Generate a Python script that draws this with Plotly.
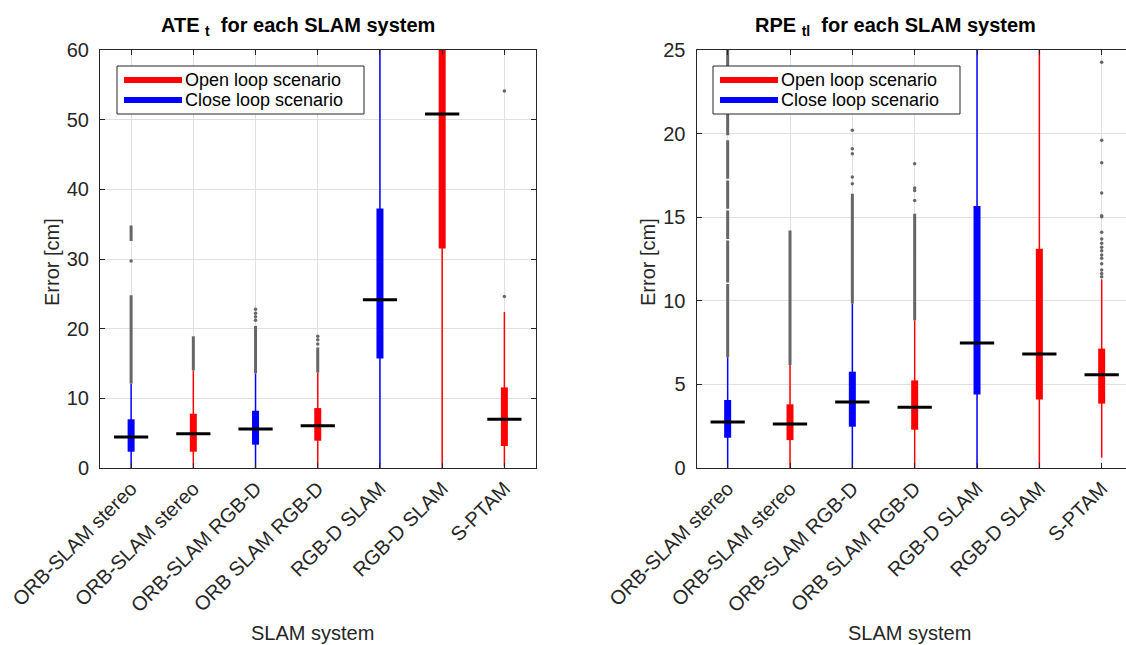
import plotly.graph_objects as go

W, H = 1126, 645

# ---------------- data ----------------
categories = ["ORB-SLAM stereo", "ORB-SLAM stereo", "ORB-SLAM RGB-D", "ORB SLAM RGB-D",
              "RGB-D SLAM", "RGB-D SLAM", "S-PTAM"]
scenario = ["close", "open", "close", "open", "close", "open", "open"]

# ATE_t [cm]
ate_q1 = [2.34, 2.34, 3.35, 3.92, 15.7, 31.5, 3.16]
ate_med = [4.45, 4.93, 5.6, 6.07, 24.15, 50.8, 6.98]
ate_q3 = [6.99, 7.79, 8.22, 8.6, 37.25, 62.0, 11.57]
ate_wlo = [0.0, 0.0, 0.0, 0.0, 0.0, 0.0, 0.2]
ate_whi = [12.05, 13.97, 13.58, 13.7, 70.0, 70.0, 22.4]
ate_out_bands = [[(12.1, 24.8), (32.6, 34.8)], [(14.0, 18.9)], [(13.6, 20.4)],
                 [(13.7, 17.3)], [], [], []]
ate_out_pts = [[29.7], [], [21.2, 21.7, 22.2, 22.8], [17.8, 18.4, 18.9], [], [], [24.6, 54.1]]

# RPE_tl [cm]
rpe_q1 = [1.81, 1.67, 2.47, 2.29, 4.39, 4.09, 3.85]
rpe_med = [2.75, 2.63, 3.95, 3.63, 7.48, 6.82, 5.58]
rpe_q3 = [4.07, 3.81, 5.76, 5.24, 15.67, 13.12, 7.14]
rpe_wlo = [0.0, 0.0, 0.0, 0.0, 0.0, 0.0, 0.62]
rpe_whi = [6.62, 6.16, 9.83, 8.83, 30.0, 30.0, 11.28]
rpe_out_bands = [[(6.62, 11.0), (11.1, 13.6), (13.7, 15.4), (15.5, 17.2), (17.3, 19.6),
                  (19.9, 21.6), (22.0, 23.2), (23.6, 25.2)],
                 [(6.16, 14.2)], [(9.83, 16.4)], [(8.83, 15.2)], [], [], []]
rpe_out_pts = [[], [], [17.0, 17.4, 18.8, 19.1, 20.2], [16.0, 16.6, 16.75, 18.2], [], [],
               [11.44, 11.64, 11.84, 12.22, 12.54, 12.74, 13.0, 13.2, 13.44, 13.7, 14.1,
                15.03, 15.09, 16.45, 18.26, 19.6, 24.26]]

ate_ticks = [0, 10, 20, 30, 40, 50, 60]
rpe_ticks = [0, 5, 10, 15, 20, 25]
legend_labels = ["Open loop scenario", "Close loop scenario"]
titles = ["ATE <sub>t</sub>  for each SLAM system", "RPE <sub>tl</sub>  for each SLAM system"]

COLORS = {"open": "#ff0000", "close": "#0000ff"}
OUT_COLOR = "#666666"
AX = "#262626"
FONT = "Liberation Sans, Arial, Helvetica, sans-serif"


def px(x):
    return x / W


def py(y):
    return 1 - y / H


fig = go.Figure()


def add_boxes(xa, ya, q1, med, q3, wlo, whi, bands, pts):
    for i in range(len(categories)):
        x = i + 1
        c = COLORS[scenario[i]]
        # whisker
        fig.add_trace(go.Scatter(x=[x, x], y=[wlo[i], whi[i]], mode="lines",
                                 line=dict(color=c, width=1.5), xaxis=xa, yaxis=ya,
                                 showlegend=False, hoverinfo="skip"))
        # outlier bands (dense outliers)
        for lo, hi in bands[i]:
            fig.add_trace(go.Scatter(x=[x, x], y=[lo, hi], mode="lines",
                                     line=dict(color=OUT_COLOR, width=3),
                                     xaxis=xa, yaxis=ya, showlegend=False, hoverinfo="skip"))
        if pts[i]:
            fig.add_trace(go.Scatter(x=[x] * len(pts[i]), y=pts[i], mode="markers",
                                     marker=dict(color=OUT_COLOR, size=3.5),
                                     xaxis=xa, yaxis=ya, showlegend=False, hoverinfo="skip"))
        # box
        fig.add_trace(go.Scatter(x=[x, x], y=[q1[i], q3[i]], mode="lines",
                                 line=dict(color=c, width=7), xaxis=xa, yaxis=ya,
                                 showlegend=False, hoverinfo="skip"))
        # median
        fig.add_trace(go.Scatter(x=[x - 0.275, x + 0.275], y=[med[i], med[i]], mode="lines",
                                 line=dict(color="black", width=3), xaxis=xa, yaxis=ya,
                                 showlegend=False, hoverinfo="skip"))


add_boxes("x", "y", ate_q1, ate_med, ate_q3, ate_wlo, ate_whi, ate_out_bands, ate_out_pts)
add_boxes("x2", "y2", rpe_q1, rpe_med, rpe_q3, rpe_wlo, rpe_whi, rpe_out_bands, rpe_out_pts)

tickfont = dict(family=FONT, size=20, color=AX)
xcommon = dict(tickmode="array", tickvals=list(range(1, 8)), ticktext=categories,
               tickangle=-45, tickfont=tickfont, showgrid=True, gridcolor="#e0e0e0",
               gridwidth=1, zeroline=False, showline=True, linecolor=AX, linewidth=1,
               ticks="inside", ticklen=5, tickcolor=AX, mirror="ticks", fixedrange=True,
               automargin=False)
ycommon = dict(tickfont=tickfont, showgrid=True, gridcolor="#e0e0e0", zeroline=False,
               showline=True, linecolor=AX, linewidth=1, ticks="inside", ticklen=5,
               tickcolor=AX, ticklabelstandoff=6, automargin=False, fixedrange=True)

ydom = [py(468), py(50)]
fig.update_layout(
    width=W, height=H, margin=dict(l=0, r=0, t=0, b=0, autoexpand=False),
    paper_bgcolor="white", plot_bgcolor="white", showlegend=False,
    xaxis=dict(domain=[px(100), px(535.5)], range=[0.5, 7.5], anchor="y", **xcommon),
    xaxis2=dict(domain=[px(696.5), 1.0], range=[0.5, 7.39], anchor="y2", **xcommon),
    yaxis=dict(domain=ydom, range=[0, 60], tickvals=ate_ticks, mirror="ticks", anchor="x",
               **ycommon),
    yaxis2=dict(domain=ydom, range=[0, 25], tickvals=rpe_ticks, mirror=False, anchor="x2",
                **ycommon),
)

annotations = []
shapes = []

# titles
for tx, t in zip([298, 895], titles):
    annotations.append(dict(x=px(tx), y=py(27), xref="paper", yref="paper", text="<b>" + t + "</b>",
                            showarrow=False, xanchor="center", yanchor="middle",
                            font=dict(family=FONT, size=20, color="black")))
# x axis titles
for tx in [312, 909]:
    annotations.append(dict(x=px(tx), y=py(633), xref="paper", yref="paper", text="SLAM system",
                            showarrow=False, xanchor="center", yanchor="middle",
                            font=dict(family=FONT, size=20, color=AX)))
# y axis titles
for tx in [52, 648]:
    annotations.append(dict(x=px(tx), y=py(262), xref="paper", yref="paper", text="Error [cm]",
                            showarrow=False, xanchor="center", yanchor="middle", textangle=-90,
                            font=dict(family=FONT, size=20, color=AX)))

# custom legends
leg_colors = [COLORS["open"], COLORS["close"]]
for bx in [117, 713]:
    shapes.append(dict(type="rect", xref="paper", yref="paper", x0=px(bx), x1=px(bx + 247),
                       y0=py(114), y1=py(66), line=dict(color=AX, width=1), fillcolor="white",
                       layer="above"))
    for k, (lab, col) in enumerate(zip(legend_labels, leg_colors)):
        yy = 80 + 20 * k
        shapes.append(dict(type="line", xref="paper", yref="paper", x0=px(bx + 7), x1=px(bx + 65),
                           y0=py(yy), y1=py(yy), line=dict(color=col, width=6), layer="above"))
        annotations.append(dict(x=px(bx + 66), y=py(yy), xref="paper", yref="paper", text=lab,
                                showarrow=False, xanchor="left", yanchor="middle",
                                font=dict(family=FONT, size=18, color="black")))

fig.update_layout(annotations=annotations, shapes=shapes)

fig.write_html("out.html")
